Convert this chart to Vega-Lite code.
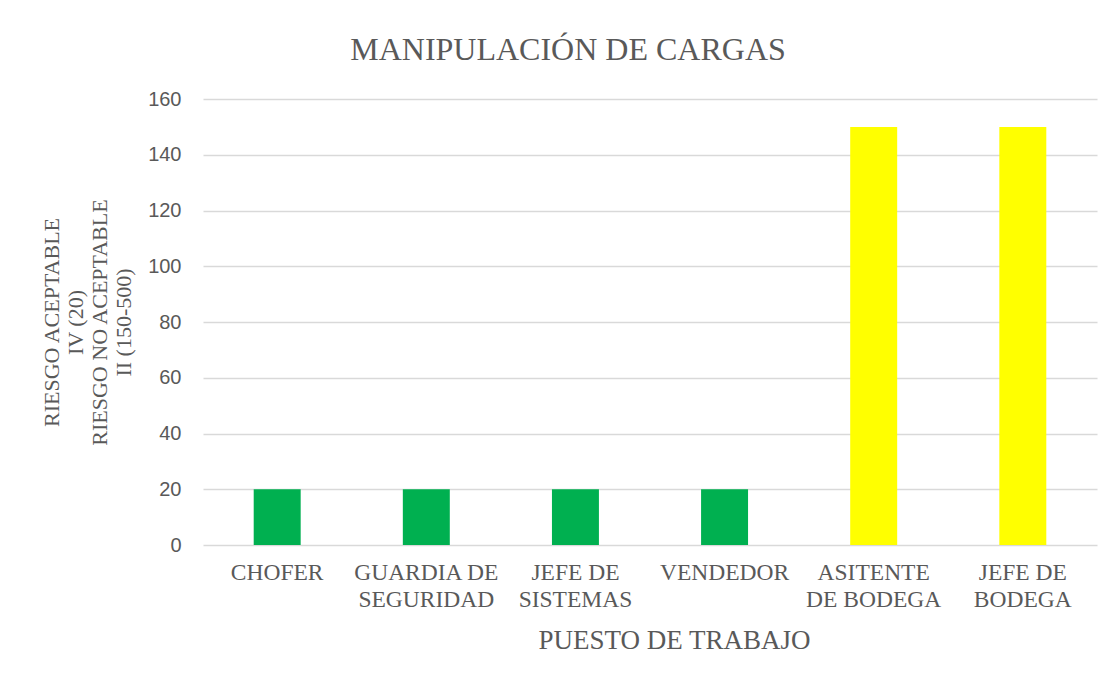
{
  "$schema": "https://vega.github.io/schema/vega-lite/v6.json",
  "autosize": {"type": "none"},
  "width": 894,
  "height": 446,
  "padding": {"left": 203, "top": 99, "right": 16, "bottom": 131},
  "background": "white",
  "title": {
    "text": "MANIPULACIÓN DE CARGAS",
    "font": "Liberation Serif",
    "fontSize": 32,
    "fontWeight": "normal",
    "color": "#595959",
    "anchor": "middle",
    "frame": "group",
    "baseline": "alphabetic",
    "dx": -82,
    "offset": -3
  },
  "data": {
    "values": [
      {"puesto": "CHOFER", "valor": 20, "nivel": "IV"},
      {"puesto": "GUARDIA DE|SEGURIDAD", "valor": 20, "nivel": "IV"},
      {"puesto": "JEFE DE|SISTEMAS", "valor": 20, "nivel": "IV"},
      {"puesto": "VENDEDOR", "valor": 20, "nivel": "IV"},
      {"puesto": "ASITENTE|DE BODEGA", "valor": 150, "nivel": "II"},
      {"puesto": "JEFE DE|BODEGA", "valor": 150, "nivel": "II"}
    ]
  },
  "mark": {"type": "bar"},
  "encoding": {
    "x": {
      "field": "puesto",
      "type": "nominal",
      "sort": null,
      "scale": {"paddingInner": 0.685, "paddingOuter": 0.34},
      "axis": {
        "title": "PUESTO DE TRABAJO",
        "titleFont": "Liberation Serif",
        "titleFontSize": 27,
        "titleFontWeight": "normal",
        "titleColor": "#595959",
        "titleX": 471,
        "titleY": 103,
        "titleBaseline": "alphabetic",
        "labelExpr": "split(datum.label, '|')",
        "labelFont": "Liberation Serif",
        "labelFontSize": 23.5,
        "labelColor": "#595959",
        "labelAngle": 0,
        "labelLineHeight": 27,
        "labelPadding": 15,
        "labelBaseline": "top",
        "ticks": false,
        "tickSize": 0,
        "domain": false,
        "grid": false
      }
    },
    "y": {
      "field": "valor",
      "type": "quantitative",
      "scale": {"domain": [0, 160], "nice": false},
      "axis": {
        "values": [0, 20, 40, 60, 80, 100, 120, 140, 160],
        "title": ["RIESGO ACEPTABLE", "IV (20)", "RIESGO NO ACEPTABLE", "II (150-500)"],
        "titleFont": "Liberation Serif",
        "titleFontSize": 22,
        "titleFontWeight": "normal",
        "titleColor": "#595959",
        "titleLineHeight": 24,
        "titlePadding": 12,
        "labelFont": "Liberation Sans",
        "labelFontSize": 20,
        "labelColor": "#595959",
        "labelPadding": 22,
        "ticks": false,
        "tickSize": 0,
        "domain": false,
        "grid": true,
        "gridColor": "#d9d9d9",
        "gridWidth": 1.4
      }
    },
    "color": {
      "field": "nivel",
      "type": "nominal",
      "scale": {"domain": ["IV", "II"], "range": ["#00B050", "#FFFF00"]},
      "legend": null
    }
  },
  "config": {"view": {"stroke": null}}
}
